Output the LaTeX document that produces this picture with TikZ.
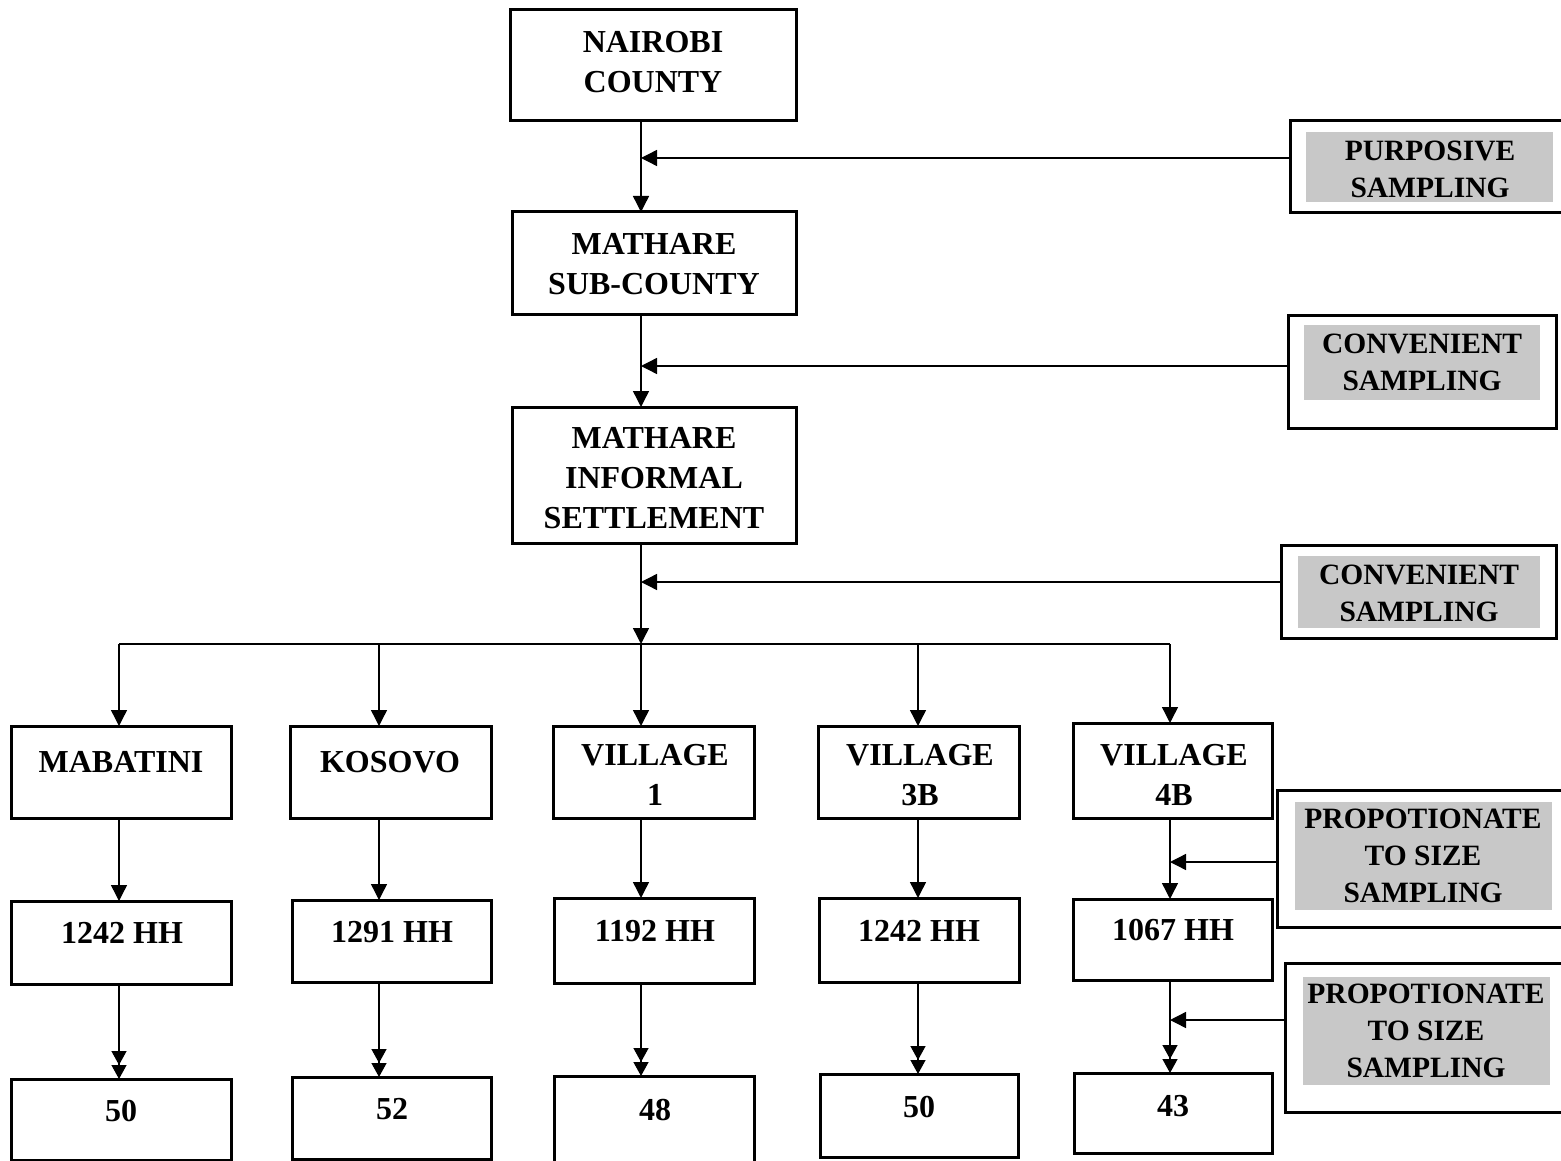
\documentclass[tikz,border=0pt]{standalone}
\usepackage{fontspec}
\setmainfont{Liberation Serif}
\usetikzlibrary{arrows.meta,calc}
\definecolor{sg}{RGB}{200,200,200}
\newcommand\mybox[6][box]{\node[#1, minimum width={(#5-#3)*1pt}, minimum height={(#6-#4)*1pt}] (#2) at ({(#3+#5)/2},{(#4+#6)/2}) {};}
\begin{document}
\begin{tikzpicture}[x=1pt,y=-1pt,
 box/.style={draw, line width=3pt, fill=white, inner sep=0pt, outer sep=0pt},
 gbox/.style={draw=none, fill=sg, inner sep=0pt, outer sep=0pt},
 txt/.style={font=\fontsize{32}{40}\selectfont\bfseries, align=center, inner sep=0pt},
 stxt/.style={font=\fontsize{29.5}{37}\selectfont\bfseries, align=center, inner sep=0pt},
 ln/.style={line width=1.4pt},
 arr/.style={ln, -{Triangle[width=16pt,length=16pt]}},
 darr/.style={ln, -{Triangle[width=15pt,length=14pt] Triangle[width=15pt,length=14pt]}}]
\path[use as bounding box, clip] (0,0) rectangle (1561,1161);
\fill[white] (0,0) rectangle (1561,1161);
% main column
\mybox{nai}{510}{10}{796}{121}
\mybox{sub}{512}{212}{796}{314}
\mybox{inf}{512}{407}{796}{543}
% sampling boxes
\mybox{purO}{1290}{121}{1568}{213}
\mybox[gbox]{purG}{1306}{132}{1553}{202}
\mybox{conA}{1288}{315}{1556}{428}
\mybox[gbox]{conAG}{1304}{325}{1540}{400}
\mybox{conB}{1281}{545}{1556}{638}
\mybox[gbox]{conBG}{1298}{556}{1540}{628}
\mybox{proA}{1277}{790}{1568}{927}
\mybox[gbox]{proAG}{1295}{802}{1552}{910}
\mybox{proB}{1285}{963}{1568}{1112}
\mybox[gbox]{proBG}{1303}{977}{1550}{1085}
% villages
\mybox{mab}{11}{726}{231}{818}
\mybox{kos}{290}{726}{491}{818}
\mybox{vone}{553}{726}{754}{818}
\mybox{vthr}{818}{726}{1019}{818}
\mybox{vfou}{1073}{723}{1272}{818}
% households
\mybox{hA}{11}{901}{231}{984}
\mybox{hB}{292}{900}{491}{982}
\mybox{hC}{554}{898}{754}{983}
\mybox{hD}{819}{898}{1019}{982}
\mybox{hE}{1073}{899}{1272}{980}
% samples
\mybox{bA}{11}{1079}{231}{1160}
\mybox{bB}{292}{1077}{491}{1159}
\mybox{bC}{554}{1076}{754}{1175}
\mybox{bD}{820}{1074}{1018}{1157}
\mybox{bE}{1074}{1073}{1272}{1153}
% texts
\node[txt] (naiT) at (653,62.5) {NAIROBI\\COUNTY};
\node[txt] (subT) at (654,264) {MATHARE\\SUB-COUNTY};
\node[txt] (infT) at (654,478) {MATHARE\\INFORMAL\\SETTLEMENT};
\node[stxt] (purT) at (1430,169) {PURPOSIVE\\SAMPLING};
\node[stxt] (conAT) at (1422,362) {CONVENIENT\\SAMPLING};
\node[stxt] (conBT) at (1419,593) {CONVENIENT\\SAMPLING};
\node[stxt] (proAT) at (1423,856) {PROPOTIONATE\\TO SIZE\\SAMPLING};
\node[stxt] (proBT) at (1426,1031) {PROPOTIONATE\\TO SIZE\\SAMPLING};
\node[txt] (mabT) at (121,762) {MABATINI};
\node[txt] (kosT) at (390,762) {KOSOVO};
\node[txt] (voneT) at (655,775) {VILLAGE\\1};
\node[txt] (vthrT) at (920,775) {VILLAGE\\3B};
\node[txt] (vfouT) at (1174,775) {VILLAGE\\4B};
\node[txt] (hAT) at (122,933) {1242 HH};
\node[txt] (hBT) at (392,932) {1291 HH};
\node[txt] (hCT) at (655,931) {1192 HH};
\node[txt] (hDT) at (919,931) {1242 HH};
\node[txt] (hET) at (1173,930) {1067 HH};
\node[txt] (bAT) at (121,1111) {50};
\node[txt] (bBT) at (392,1109) {52};
\node[txt] (bCT) at (655,1110) {48};
\node[txt] (bDT) at (919,1107) {50};
\node[txt] (bET) at (1173,1106) {43};
% coordinates
\coordinate (tx) at (641,0);
\coordinate (kA) at (119,0);
\coordinate (kB) at (379,0);
\coordinate (kC) at (641,0);
\coordinate (kD) at (918,0);
\coordinate (kE) at (1170,0);
\coordinate (yA) at (0,158);
\coordinate (yB) at (0,366);
\coordinate (yC) at (0,582);
\coordinate (bus) at (0,644);
\coordinate (yD) at (0,862);
\coordinate (yE) at (0,1020);
% connectors
\draw[arr] (nai.south -| tx) -- (sub.north -| tx);
\draw[arr] (sub.south -| tx) -- (inf.north -| tx);
\draw[arr] (inf.south -| tx) -- (tx |- bus);
\draw[arr] (purO.west |- yA) -- (tx |- yA);
\draw[arr] (conA.west |- yB) -- (tx |- yB);
\draw[arr] (conB.west |- yC) -- (tx |- yC);
\draw[ln] (kA |- bus) -- (kE |- bus);
\draw[arr] (kA |- bus) -- (kA |- mab.north);
\draw[arr] (kB |- bus) -- (kB |- kos.north);
\draw[arr] (kC |- bus) -- (kC |- vone.north);
\draw[arr] (kD |- bus) -- (kD |- vthr.north);
\draw[arr] (kE |- bus) -- (kE |- vfou.north);
\draw[arr] (kA |- mab.south) -- (kA |- hA.north);
\draw[arr] (kB |- kos.south) -- (kB |- hB.north);
\draw[arr] (kC |- vone.south) -- (kC |- hC.north);
\draw[arr] (kD |- vthr.south) -- (kD |- hD.north);
\draw[arr] (kE |- vfou.south) -- (kE |- hE.north);
\draw[darr] (kA |- hA.south) -- (kA |- bA.north);
\draw[darr] (kB |- hB.south) -- (kB |- bB.north);
\draw[darr] (kC |- hC.south) -- (kC |- bC.north);
\draw[darr] (kD |- hD.south) -- (kD |- bD.north);
\draw[darr] (kE |- hE.south) -- (kE |- bE.north);
\draw[arr] (proA.west |- yD) -- (kE |- yD);
\draw[arr] (proB.west |- yE) -- (kE |- yE);
\end{tikzpicture}
\end{document}
